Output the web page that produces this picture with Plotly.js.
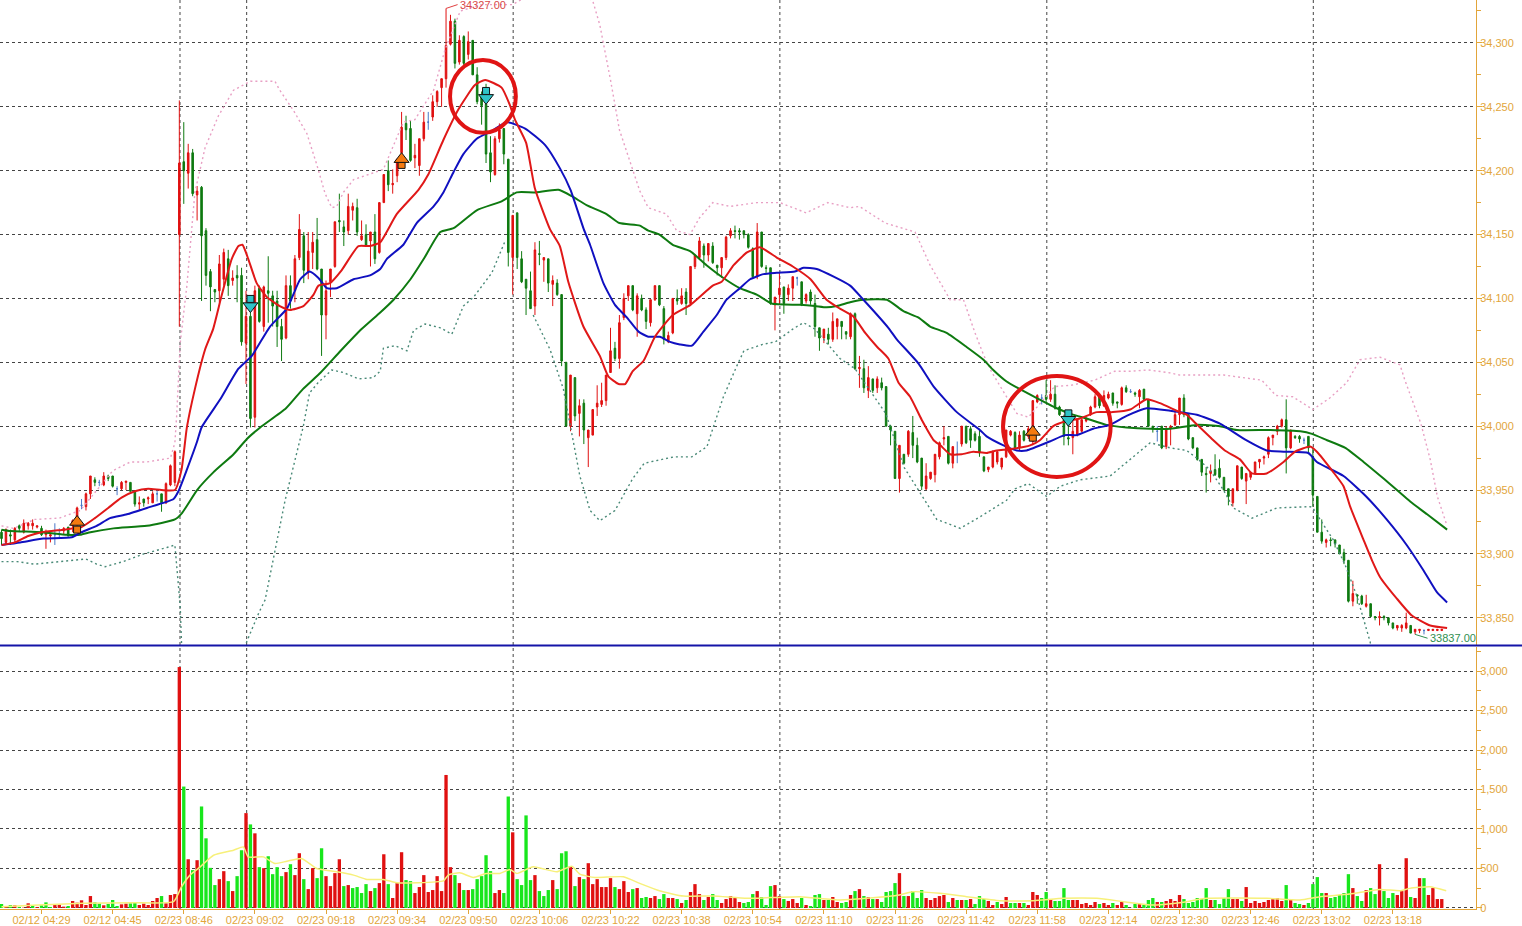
<!DOCTYPE html>
<html>
<head>
<meta charset="utf-8">
<title>Candles</title>
<script src="https://cdn.plot.ly/plotly-3.0.1.min.js"></script>
<style>
  html, body { margin: 0; padding: 0; background: #fff; overflow: hidden; }
  #chart { width: 1522px; height: 926px; }
</style>
</head>
<body>
<div id="chart"></div>
<script>
// candles, one per bar
const opens = [
  33917,33909,33915,33911,33922,33917,33922,33922,33921,33920,
  33915,33914,33915,33916,33918,33921,33922,33928,33938,33937,
  33947,33958,33956,33954,33961,33961,33951,33951,33956,33956,
  33949,33939,33943,33943,33940,33947,33947,33940,33954,33956,
  34150,34207,34198,34214,34181,34187,34153,34121,34107,34106,
  34115,34131,34114,34118,34118,34065,34086,34007,34108,34078,
  34106,34102,34098,34078,34069,34110,34106,34132,34149,34120,
  34136,34146,34123,34087,34113,34125,34161,34156,34153,34169,
  34171,34146,34150,34145,34152,34136,34175,34200,34189,34196,
  34214,34237,34233,34210,34204,34225,34238,34242,34254,34265,
  34272,34299,34317,34285,34305,34291,34302,34275,34259,34252,
  34214,34197,34225,34233,34209,34132,34167,34131,34115,34106,
  34094,34135,34130,34131,34111,34112,34103,34050,34000,34038,
  34010,34018,33991,33993,34015,34017,34020,34042,34061,34053,
  34085,34102,34110,34088,34100,34091,34081,34099,34110,34092,
  34066,34073,34100,34096,34105,34096,34125,34132,34141,34134,
  34141,34126,34124,34132,34149,34153,34153,34153,34150,34139,
  34117,34152,34124,34124,34095,34103,34109,34103,34108,34116,
  34113,34098,34105,34096,34077,34069,34072,34068,34078,34082,
  34074,34070,34088,34045,34045,34028,34037,34030,34034,34031,
  34000,33996,33959,33978,33978,33995,33985,33975,33951,33959,
  33962,33976,33990,33992,33971,33978,33986,34000,33998,33994,
  33992,33976,33966,33968,33972,33968,33976,33993,33995,33983,
  33996,33992,33988,34019,34022,34024,34021,34025,34015,34005,
  33991,33991,33993,33996,34004,34009,34015,34024,34016,34022,
  34026,34019,34017,34030,34027,34026,34023,34029,34021,34000,
  33996,34000,33984,33998,34001,34009,34022,34009,33991,33983,
  33974,33963,33963,33966,33967,33960,33951,33940,33950,33968,
  33957,33960,33963,33972,33975,33978,33991,33996,34000,34005,
  33983,33992,33992,33989,33992,33976,33945,33917,33909,33911,
  33911,33907,33901,33895,33863,33868,33867,33859,33861,33851,
  33850,33851,33850,33846,33842,33842,33842,33844,33839,33840,
  33840,33840,33840,33840,33840
];
const highs = [
  33919,33920,33919,33921,33923,33927,33925,33927,33922,33922,
  33919,33916,33924,33920,33921,33921,33927,33937,33943,33948,
  33961,33960,33958,33964,33962,33961,33953,33957,33957,33956,
  33950,33945,33943,33945,33949,33950,33947,33956,33970,33981,
  34255,34238,34221,34217,34188,34188,34155,34123,34107,34134,
  34139,34138,34122,34126,34124,34106,34092,34110,34110,34110,
  34133,34106,34106,34084,34118,34118,34134,34166,34152,34152,
  34152,34163,34123,34114,34123,34160,34182,34161,34182,34175,
  34178,34161,34158,34152,34166,34175,34197,34208,34201,34209,
  34246,34243,34239,34221,34225,34246,34246,34259,34263,34272,
  34327,34322,34319,34306,34306,34309,34302,34281,34262,34268,
  34227,34227,34237,34233,34209,34165,34167,34137,34115,34121,
  34144,34145,34132,34131,34118,34115,34103,34050,34040,34038,
  34021,34021,33997,34013,34032,34034,34040,34077,34066,34087,
  34104,34110,34110,34104,34103,34093,34099,34110,34110,34094,
  34074,34100,34107,34108,34108,34125,34134,34148,34143,34143,
  34144,34126,34132,34149,34155,34157,34155,34153,34151,34140,
  34159,34152,34126,34124,34101,34120,34109,34111,34117,34117,
  34113,34104,34107,34103,34077,34076,34077,34089,34084,34082,
  34074,34089,34089,34055,34052,34047,34037,34039,34038,34031,
  34001,33996,33985,33978,33997,34008,33991,33975,33971,33964,
  33978,33988,34000,33992,33984,33988,34000,34000,34000,33996,
  33998,33976,33968,33981,33981,33975,33997,33997,33996,33996,
  33997,34000,34020,34025,34025,34036,34036,34032,34016,34009,
  34002,34005,34006,34006,34007,34016,34025,34025,34028,34027,
  34026,34019,34031,34032,34029,34027,34029,34029,34021,34000,
  34000,34000,34000,34001,34012,34022,34025,34009,33991,33983,
  33974,33968,33970,33978,33974,33960,33951,33951,33969,33968,
  33963,33964,33972,33974,33977,33992,33993,34001,34006,34021,
  33997,33993,33993,33991,33992,33983,33945,33927,33912,33913,
  33911,33907,33904,33895,33879,33868,33868,33868,33861,33851,
  33855,33852,33850,33846,33844,33845,33854,33844,33841,33841,
  33841,33841,33841,33841,33841
];
const lows = [
  33907,33907,33907,33909,33918,33916,33919,33919,33920,33914,
  33904,33909,33907,33913,33915,33914,33917,33922,33935,33934,
  33943,33953,33953,33953,33957,33952,33946,33950,33950,33949,
  33937,33934,33937,33939,33940,33941,33933,33939,33953,33953,
  34078,34174,34186,34180,34161,34098,34110,34090,34097,34097,
  34110,34102,34110,34097,34063,34033,33999,33999,34081,34074,
  34081,34078,34062,34051,34068,34092,34097,34130,34112,34115,
  34123,34122,34055,34068,34101,34124,34152,34141,34150,34161,
  34149,34145,34141,34125,34127,34135,34175,34184,34182,34191,
  34202,34224,34207,34202,34196,34223,34232,34239,34250,34250,
  34265,34298,34280,34283,34280,34287,34275,34252,34236,34206,
  34191,34196,34222,34205,34125,34103,34123,34112,34087,34092,
  34087,34126,34113,34105,34094,34102,34047,34000,33996,34004,
  33992,33986,33968,33993,34008,34015,34016,34042,34051,34045,
  34083,34098,34090,34070,34090,34076,34078,34098,34094,34064,
  34065,34072,34095,34095,34087,34095,34123,34130,34124,34129,
  34127,34118,34116,34130,34147,34147,34146,34147,34139,34116,
  34115,34124,34120,34095,34075,34095,34088,34098,34098,34110,
  34094,34096,34095,34070,34059,34065,34064,34066,34068,34068,
  34068,34068,34044,34030,34026,34022,34026,34026,34028,34000,
  33985,33959,33948,33970,33976,33975,33971,33950,33950,33958,
  33956,33974,33985,33970,33967,33971,33984,33986,33983,33988,
  33976,33964,33964,33967,33970,33966,33975,33992,33982,33981,
  33988,33990,33985,34018,34017,34018,34019,34013,34008,33985,
  33985,33978,33992,33995,34003,34008,34014,34014,34015,34021,
  34016,34014,34016,34026,34026,34023,34014,34020,34000,33995,
  33988,33982,33982,33985,34000,34001,34007,33989,33982,33973,
  33961,33948,33956,33961,33959,33950,33938,33937,33949,33958,
  33939,33958,33962,33967,33970,33975,33985,33993,33999,33963,
  33982,33990,33987,33986,33978,33937,33917,33908,33905,33906,
  33905,33900,33892,33862,33859,33861,33860,33858,33851,33848,
  33844,33848,33844,33841,33840,33839,33841,33838,33837,33838,
  33837,33840,33840,33840,33840
];
const closes = [
  33912,33919,33914,33920,33920,33924,33924,33924,33922,33915,
  33917,33915,33915,33916,33920,33914,33926,33936,33938,33947,
  33961,33956,33956,33961,33959,33953,33951,33956,33957,33949,
  33939,33940,33940,33944,33947,33947,33940,33955,33969,33980,
  34206,34200,34214,34182,34184,34149,34118,34109,34105,34127,
  34136,34110,34116,34116,34066,34086,34006,34106,34082,34109,
  34104,34094,34078,34068,34110,34098,34131,34154,34122,34137,
  34144,34123,34087,34106,34123,34160,34160,34152,34172,34172,
  34152,34149,34141,34152,34131,34175,34197,34189,34190,34209,
  34234,34232,34208,34212,34225,34238,34238,34254,34262,34272,
  34298,34317,34284,34302,34284,34301,34275,34254,34251,34213,
  34199,34225,34232,34213,34136,34165,34132,34113,34108,34092,
  34138,34134.5,34132,34112,34114,34103,34051,34000,34040,34008,
  34016,33997,33997,34013,34018,34020,34040,34059,34053,34081,
  34100,34110,34091,34102,34091,34082,34099,34110,34095,34068,
  34071,34100,34098,34102,34096,34125,34134,34145,34134,34143,
  34128,34124,34132,34148,34153,34152.5,34152,34150,34140,34117,
  34152,34125,34123.5,34096,34101,34108,34096,34108,34117,34116,
  34095,34103,34098,34078,34069,34076,34068,34082,34084,34078,
  34072,34088,34045,34046,34030,34038,34028,34037,34030,34000,
  33997,33959,33985,33971,33996,33985,33972,33953,33961,33964,
  33978,33987,33991,33971,33984,33978,34000,33987,33989,33989,
  33979,33965,33968,33980,33980,33975,33997,33996,33983,33993,
  33989,33998,34020,34024,34022,34021,34025,34014,34009,33992,
  33990,33996,34005,34005,34006,34015,34023,34016,34024,34025,
  34018,34018,34030,34027,34027,34025,34028,34021,34000,33998,
  33996,33983,33998,34000,34009,34022,34009,33990,33983,33974,
  33964,33962,33965,33962,33960,33950,33945,33951,33969,33959,
  33963,33964,33972,33974,33976,33991,33993,34000,34005,33983,
  33997,33991,33990,33989,33983,33946,33917,33910,33911,33910.5,
  33908,33900,33895,33863,33869,33867,33861,33861,33851,33850,
  33851,33850,33846,33842,33844,33844,33846,33838,33841,33841,
  33840,33841,33841,33841,33841
];

// volume bars, and the r/g colour of each one
const volumes = [
  50,17,38,34,13,5,59,29,13,34,
  71,13,46,46,17,25,88,67,97,38,
  151,71,55,34,50,101,25,46,55,59,
  71,38,55,38,88,126,151,59,164,176,
  3050,1537,617,479,605,1285,882,508,290,365,
  466,340,214,403,731,1201,1058,945,517,504,
  655,428,517,403,454,554,416,693,365,239,
  504,378,756,403,277,441,617,277,290,252,
  265,189,302,214,252,315,680,302,126,315,
  706,353,340,189,265,416,202,227,403,214,
  1684,517,416,315,227,227,239,365,403,668,
  466,189,227,189,1411,958,365,290,1172,353,
  416,214,151,227,353,239,693,718,529,277,
  391,365,567,302,365,265,265,378,265,239,
  340,202,239,252,126,139,126,151,113,176,
  126,126,113,63,101,202,302,176,101,139,
  176,101,63,113,151,126,76,63,76,176,
  214,139,38,277,290,151,113,88,113,63,
  126,38,25,164,176,101,101,139,76,63,
  76,164,214,239,151,139,113,113,76,202,
  214,315,441,151,151,214,126,227,126,101,
  126,151,164,76,126,101,101,101,113,50,
  151,113,88,38,76,50,139,63,63,63,
  63,38,202,164,126,202,113,88,88,252,
  101,101,101,50,63,38,76,50,63,38,
  63,38,76,38,3,50,50,38,101,126,
  76,76,88,113,88,164,113,63,76,126,
  113,252,101,101,50,126,239,113,113,88,
  265,63,88,63,76,101,113,126,88,290,
  101,63,50,38,63,302,391,189,189,126,
  139,164,189,428,252,151,88,227,252,176,
  554,214,126,189,164,214,630,139,126,378,
  378,164,252,113,113
];
const volumeSides = (
  "grgrgrrgrg" + "ggrrrgrrrr" + "rggrgggrrg" + "grrrrrgrrr" +
  "rgrgrggggr" + "rgrggrgrgr" + "ggggrgrrgr" + "rggrrrrgrg" +
  "gggrgrrgrr" + "rggrrrrrrr" + "rrgrgrgggg" + "grrggrgggg" +
  "rgggrgggrg" + "rgrrrrrrgr" + "rrgrggrrgg" + "rrgrgrrrgr" +
  "ggrrrrrggg" + "rgggrrgrrr" + "grgggrgrrg" + "grgrgrgrgg" +
  "ggrgrgggrr" + "rrrgrgrgrg" + "ggrrgrrggr" + "grrrggrggg" +
  "grrrrrrgrr" + "grrgrgrggg" + "rgrrrrgggg" + "ggrggggrrg" +
  "rrrrrrrrrg" + "rggrggggrg" + "ggggrggrgg" + "rgggrrrgrr" +
  "grrrr"
).split("");

// moving averages and bands, read at the bends of each line
const fastX = [0,3,6,9,14,16,18,21,24,27,30,33,36,39,40.5,41.7,43.5,45.8,47.6,49.5,51.8,53.3,54.2,55.5,57.4,59.7,62.6,64.9,67.9,70.2,71.3,73.9,76.5,80.3,82.9,85.2,88.9,93.8,96,99.4,102.8,106.5,108.8,112.5,114.4,115.5,118,120,123.4,125.6,127.5,130.9,134.6,136.5,138.8,140.3,142,144.4,147,151,155,160,162,164.7,167.7,170.6,174.4,178,182,185.6,188.6,191.6,194.3,197,199.5,201.8,204.4,207,209.7,211.2,213.4,216,218.6,221.6,223.9,226.9,231.4,233.6,236.6,239.6,242.6,246.4,250,253.9,257.6,260.6,265,266.6,269,272.3,275.2,278.6,281.3,284.6,288.4,291,294.4,295.9,299.6,301.9,303.4,306.4,308.3,310.1,313.9,317.2,321.4,325.2];
const fastY = [33907,33909,33914,33917,33919,33920,33921,33928,33936,33944,33949,33951,33950,33950,33966,33999,34029,34060,34076,34102,34131,34141,34142,34131,34112,34101,34094,34091,34094,34103,34110,34112,34122,34141,34141,34144,34166,34185,34197,34224,34248,34267,34271,34265,34251,34240,34222,34186,34154,34141,34113,34078,34055,34039,34033,34033,34043,34051,34070,34087,34095,34110,34113,34126,34136,34140,34132,34125,34115,34099,34092,34086,34073,34062,34053,34034,34023,34005,33989,33985,33978,33978,33980,33979,33981,33982,33985,33989,34000,34004,34006,34011,34011,34013,34021,34018,34011,34009,34001,33990,33981,33974,33963,33963,33972,33980,33984,33980,33964,33953,33937,33911,33895,33882,33865,33852,33844,33842];

const midX = [0,4.2,9.4,15.8,18,21.4,24.4,28.2,32.7,38.7,39.8,41.7,44,45,49.2,53.3,56.3,60.4,64.2,67.2,69.3,71.3,73.2,75.4,79.2,82.9,85.2,86.7,90.4,93.4,97.2,99.4,101.7,103.9,106.9,110.3,113.6,117.8,122.3,125.6,128,131,132.4,135.4,138,140.7,143.3,145.5,148.1,150.4,152.6,155.3,157.9,160.9,163.1,166.1,168.4,171.4,174.4,178.5,180.4,183.4,187.2,190.9,193.9,199.5,201.4,206.3,209.7,214.9,220.1,221.6,225.4,228.4,230.6,235.8,239.2,241.9,245.6,249.4,253.1,257.6,262.9,265.1,268.9,274.1,280,284.6,288.4,294,295.9,301.9,307,311.6,316.1,319.9,322.9,325.2];
const midY = [33907,33909,33912,33913,33917,33922,33928,33931,33936,33943,33949,33966,33988,33999,34021,34045,34055,34078,34092,34115,34121,34116,34108,34108,34115,34118,34123,34131,34142,34159,34172,34183,34199,34213,34225,34231,34238,34233,34220,34202,34185,34154,34142,34112,34095,34085,34074,34070,34070,34066,34064,34063,34074,34087,34099,34108,34115,34119,34120,34121,34124,34123,34117,34110,34099,34077,34068,34049,34031,34011,33997,33992,33985,33981,33981,33988,33993,33993,33998,34001,34008,34014,34012,34011,34009,34002,33989,33981,33980,33979,33972,33961,33945,33927,33907,33887,33870,33862];

const slowX = [0,2,9,14.7,17.7,20,25.2,32.7,39,40.6,44,47.7,52.2,55.2,58.2,64,67.8,71.8,76.3,81,85.2,88.2,92,95,98.7,101.7,106.9,112.5,115.9,119.9,125.3,128.3,131.6,136.1,139,143.6,145.5,148,151,154.9,158.6,162.4,166.1,169.9,173.2,179.6,183,185.6,187.9,190.9,193.9,199.2,202.9,206.3,208.9,212.6,217.1,220.9,223.1,226.1,229.1,232.9,237.4,241,244.1,248.6,253.1,258.4,262.9,268.9,274.1,277.9,285.4,292.2,294.8,298.2,302.3,306.4,310.9,316.9,320.7,325.2];
const slowY = [33919,33918,33917,33915,33915,33917,33920,33922,33927,33932,33950,33964,33978,33990,33999,34014,34029,34042,34059,34076,34089,34099,34115,34131,34152,34155,34169,34176,34183,34183,34185,34180,34173,34166,34159,34157,34153,34150,34142,34137,34126,34116,34108,34103,34096,34095,34094,34093,34094,34097,34099,34099,34090,34085,34078,34073,34062,34052,34044,34035,34029,34022,34014,34009,34006,34001,33999,33998,33998,34001,34000,33997,33997,33996,33994,33989,33983,33972,33959,33941,33931,33919];

const upperX = [0,2.7,7.5,13,17.7,22,25,29,32.7,38,39,39.4,40.2,41.7,43.5,45.8,48.8,52.2,56,61.5,62.6,65.7,68.7,70.9,72.8,74.3,75.4,76.9,79.2,85.9,90.4,93,97.2,99.8,103.2,108,115,120,130,133,134.6,137,139,143.6,145.5,149.6,151.9,154.9,157,160,163.9,169.9,175.1,181,185.9,190.9,193,198.8,205.5,208.9,213.4,216.4,219,220.9,222.8,225.4,228.4,231,236.9,240.6,245.9,250.4,254.1,257.9,262.4,265.1,275,283.5,286.7,290.5,295,298.8,302.6,305.6,310.1,314.6,315.7,319.3,321.4,323,325];
const upperY = [33922,33920,33927,33928,33934,33952,33965,33972,33972,33975,33987,34008,34065,34110,34183,34218,34243,34263,34270,34270,34263,34247,34229,34205,34182,34171,34172,34183,34193,34201,34238,34240,34263,34295,34325,34330,34330,34340,34340,34333,34314,34271,34232,34184,34171,34166,34153,34150,34163,34175,34172,34175,34175,34167,34175,34171,34172,34159,34152,34126,34099,34099,34073,34056,34042,34027,34010,34007,34031,34032,34036,34043,34043,34044,34042,34040,34040,34036,34024,34023,34013,34022,34034,34052,34054,34048,34036,34002,33974,33945,33924];

const lowerX = [0,3.5,7.4,13,19,21.4,23.3,27.4,32,37.2,39,40.2,40.5,45,50,55,57.9,59.3,63.8,67.9,69.3,71.2,74.3,76.9,80.3,83.6,85.2,85.9,88.5,91.2,92.7,95.3,98.7,101.3,103.9,106.2,110.3,113.3];
const lowerY = [33894,33894,33892,33894,33896,33892,33890,33894,33900,33905,33907,33859,33830,33700,33700,33830,33854,33864,33942,34000,34026,34034,34044,34042,34037,34038,34043,34061,34063,34059,34075,34080,34077,34072,34094,34101,34120,34145];
// the band breaks after the drop at 10:00 where candles hide it
const lowerX2 = [119.6,123.4,126.4,128.3,130.1,132.4,134.6,138,142,144.6,151.3,155.3,158.7,160.2,162.4,165.4,167,171.2,174.1,178,180.4,183,185.9,188.6,192,198.9,203,206.3,210.4,215.7,220.1,226.1,228,231,235.1,238.2,242.6,249.4,253.1,258.4,262.9,266.6,268.9,271.8,274.9,277.1,281.3,286.9,294.4,295,296.6,299.6,302.3,304.9,307.9,309];
const lowerY2 = [34087,34060,34029,33995,33961,33934,33926,33934,33959,33971,33976,33976,33984,34000,34023,34047,34059,34064,34066,34076,34081,34076,34064,34053,34045,34010,33968,33950,33927,33920,33929,33942,33951,33955,33945,33953,33958,33961,33972,33987,33983,33981,33975,33966,33950,33936,33928,33936,33937,33936,33927,33911,33891,33867,33831,33800];

const volMaX = [0,7,18.4,29.7,38.7,40.5,42.4,44.7,47.7,52.2,54.4,55.5,58.9,61.5,64.2,67.5,70.9,75.4,79.2,82.2,85.9,88.9,93.4,99.4,100.5,103.1,106.1,109,112.1,114.4,115.9,119.6,124.9,128.3,130.1,133.5,139.9,143.6,148,153.4,160.1,167.7,174.4,179.6,188.6,194.6,202,205,211.1,217.1,224.6,232.1,238.9,246.4,252.4,258.4,265.1,271.1,284.6,292.1,296.6,303.3,310,314.6,316.8,321.3,325];
const volMaY = [17,34,59,67,80,269,416,521,668,731,773,647,647,563,592,626,500,458,416,361,361,319,319,344,416,445,386,437,437,487,437,521,458,529,428,386,395,311,218,151,151,122,134,143,101,122,164,206,185,143,92,92,122,122,80,38,67,122,122,101,143,176,235,218,248,269,218];

// buy and sell arrows, head and tail prices
const buyBars = [17, 90, 232];
const buyHeads = [33925, 34209, 33995.5];
const buyTails = [33919, 34204.5, 33991];
const sellBars = [56, 109, 240];
const sellHeads = [34094, 34257, 34005];
const sellTails = [34099.6, 34262.4, 34010];

// x axis labels every 16 bars, hour lines
const tickBars = [9,25,41,57,73,89,105,121,137,153,169,185,201,217,233,249,265,281,297,313];
const tickLabels = ["02/12 04:29","02/12 04:45","02/23 08:46","02/23 09:02","02/23 09:18","02/23 09:34","02/23 09:50","02/23 10:06","02/23 10:22","02/23 10:38","02/23 10:54","02/23 11:10","02/23 11:26","02/23 11:42","02/23 11:58","02/23 12:14","02/23 12:30","02/23 12:46","02/23 13:02","02/23 13:18"];
const hourBars = [40.15,55.15,115.1,175.1,235.15,295.1];

const ORANGE = "#e2a53a", CANDLE_RED = "#e01010", CANDLE_GREEN = "#0e7a10", VOL_GREEN = "#18e61c";
const FONT = "Liberation Sans, Arial, sans-serif";
const GRID_DASH = "3px,3px";

const bars = opens.map((_, i) => i);
const isDoji = i => opens[i] === closes[i];
const plain = bars.filter(i => !isDoji(i));
const dojis = bars.filter(isDoji);
const pick = (arr, idx) => idx.map(i => arr[i]);

function candleTrace(idx, up, down) {
  return {
    type: "candlestick", x: idx, xaxis: "x", yaxis: "y",
    open: pick(opens, idx), high: pick(highs, idx), low: pick(lows, idx), close: pick(closes, idx),
    increasing: { line: { color: up, width: 1 }, fillcolor: up },
    decreasing: { line: { color: down, width: 1 }, fillcolor: down },
    whiskerwidth: 0, hoverinfo: "skip", showlegend: false
  };
}

function lineTrace(x, y, color, width, dash, yaxis) {
  return {
    type: "scatter", mode: "lines", x: x, y: y, xaxis: "x", yaxis: yaxis || "y",
    line: { color: color, width: width, dash: dash || "solid", shape: dash ? "linear" : "spline", smoothing: 0.5 },
    hoverinfo: "skip", showlegend: false
  };
}

function arrowTrace(x, y, symbol, size, color) {
  return {
    type: "scatter", mode: "markers", x: x, y: y, xaxis: "x", yaxis: "y",
    marker: { symbol: symbol, size: size, color: color, line: { color: "#111", width: 1 } },
    hoverinfo: "skip", showlegend: false
  };
}

const traces = [
  candleTrace(plain, CANDLE_RED, CANDLE_GREEN),
  candleTrace(dojis, "#4a78c8", "#4a78c8"),
  lineTrace(upperX, upperY, "#e8a0c4", 1.4, "2px,3px"),
  lineTrace(lowerX, lowerY, "#4a8a78", 1.4, "2px,3px"),
  lineTrace(lowerX2, lowerY2, "#4a8a78", 1.4, "2px,3px"),
  lineTrace(slowX, slowY, "#0e7a10", 2),
  lineTrace(midX, midY, "#1010c0", 2),
  lineTrace(fastX, fastY, "#e01818", 2),
  arrowTrace(buyBars, buyTails, "square", 7, "#f57a10"),
  arrowTrace(buyBars, buyHeads, "triangle-up", 13, "#f57a10"),
  arrowTrace(sellBars, sellTails, "square", 7, "#30c4c8"),
  arrowTrace(sellBars, sellHeads, "triangle-down", 13, "#30c4c8"),
  {
    type: "bar", x: bars, y: volumes, xaxis: "x", yaxis: "y2",
    marker: { color: volumeSides.map(s => s === "r" ? CANDLE_RED : VOL_GREEN), line: { width: 0 } },
    hoverinfo: "skip", showlegend: false
  },
  lineTrace(volMaX, volMaY, "#f7f07a", 1.5, null, "y2")
];

const shapes = hourBars.map(b => ({
  type: "line", layer: "below", xref: "x", yref: "paper", x0: b, x1: b, y0: 0, y1: 1,
  line: { color: "#444", width: 1, dash: GRID_DASH }
}));
shapes.push(
  // pane separator runs past the price axis to the edge of the page
  { type: "line", xref: "paper", yref: "paper", x0: 0, x1: 1522 / 1476, y0: 263.5 / 909, y1: 263.5 / 909,
    line: { color: "#1414a8", width: 2 } },
  // hand drawn circles
  { type: "circle", xref: "x", yref: "y", x0: 100.9, x1: 115.7, y0: 34229.6, y1: 34286.7,
    line: { color: "#e01414", width: 4 } },
  { type: "circle", xref: "x", yref: "y", x0: 225.3, x1: 249.5, y0: 33960.3, y1: 34039.3,
    line: { color: "#e01414", width: 4 } },
  // leaders to the high and low labels
  { type: "line", xref: "x", yref: "y", x0: 100, x1: 102.6, y0: 34327, y1: 34330,
    line: { color: "#e04040", width: 1 } },
  { type: "line", xref: "x", yref: "y", x0: 318, x1: 320.8, y0: 33837, y1: 33834,
    line: { color: "#2f8f50", width: 1 } }
);

const layout = {
  width: 1522, height: 926,
  margin: { l: 0, r: 46, t: 0, b: 17, pad: 0 },
  paper_bgcolor: "#fff", plot_bgcolor: "#fff",
  showlegend: false, dragmode: false, hovermode: false,
  boxgap: 0.5, bargap: 0.25,
  xaxis: {
    domain: [0, 1], range: [-0.34, 331.7], anchor: "y2",
    tickmode: "array", tickvals: tickBars, ticktext: tickLabels,
    ticks: "outside", ticklen: 4, tickcolor: ORANGE, tickangle: 0, ticklabelstandoff: -3,
    tickfont: { family: FONT, size: 11, color: ORANGE },
    showgrid: false, zeroline: false, showline: true, linecolor: ORANGE, linewidth: 1,
    rangeslider: { visible: false }
  },
  yaxis: {
    domain: [264 / 909, 1], range: [33828.7, 34333.6], anchor: "x", side: "right",
    tick0: 34000, dtick: 50, tickformat: ",d",
    ticks: "outside", ticklen: 5, tickcolor: ORANGE, ticklabelstandoff: -4,
    minor: { dtick: 25, tick0: 34000, ticks: "outside", ticklen: 4, tickcolor: ORANGE, showgrid: false },
    tickfont: { family: FONT, size: 11, color: ORANGE },
    showgrid: true, gridcolor: "#444", gridwidth: 1, griddash: GRID_DASH,
    zeroline: false, showline: true, linecolor: ORANGE, linewidth: 1
  },
  yaxis2: {
    domain: [0, 262 / 909], range: [-13, 3304], anchor: "x", side: "right",
    tick0: 0, dtick: 500, tickformat: ",d",
    ticks: "outside", ticklen: 5, tickcolor: ORANGE, ticklabelstandoff: -4,
    minor: { dtick: 250, tick0: 0, ticks: "outside", ticklen: 4, tickcolor: ORANGE, showgrid: false },
    tickfont: { family: FONT, size: 11, color: ORANGE },
    showgrid: true, gridcolor: "#444", gridwidth: 1, griddash: GRID_DASH,
    zeroline: false, showline: true, linecolor: ORANGE, linewidth: 1
  },
  shapes: shapes,
  annotations: [
    { xref: "x", yref: "y", x: 102.7, y: 34330, text: "34327.00", showarrow: false,
      xanchor: "left", yanchor: "middle", font: { family: FONT, size: 11, color: "#d84848" } },
    { xref: "x", yref: "y", x: 320.9, y: 33834, text: "33837.00", showarrow: false,
      xanchor: "left", yanchor: "middle", font: { family: FONT, size: 11, color: "#2f8f50" } }
  ]
};

Plotly.newPlot("chart", traces, layout, { displayModeBar: false, staticPlot: true });
</script>
</body>
</html>
